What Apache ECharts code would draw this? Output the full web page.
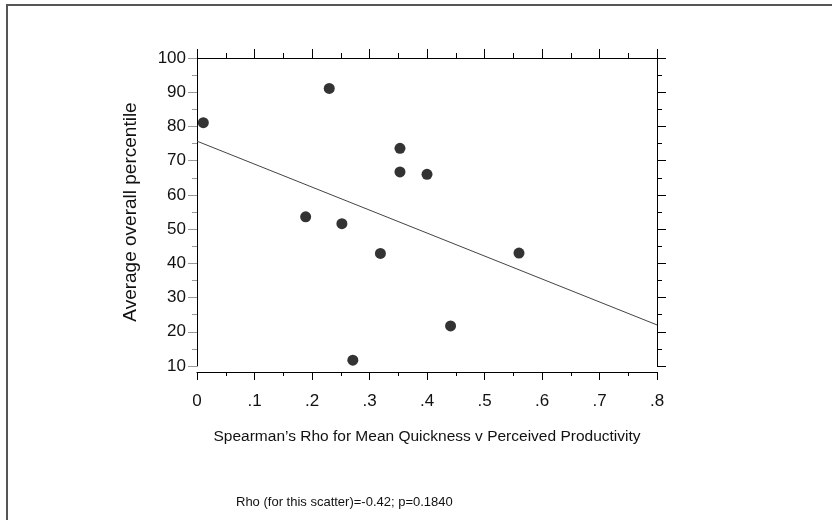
<!DOCTYPE html>
<html>
<head>
<meta charset="utf-8">
<script src="https://cdn.jsdelivr.net/npm/echarts@6/dist/echarts.min.js"></script>
<style>
html,body{margin:0;padding:0;background:#fff;}
#c{width:832px;height:520px;}
</style>
</head>
<body>
<div id="c"></div>
<script>
// Data
const rho = [0.011, 0.23, 0.353, 0.353, 0.40, 0.189, 0.252, 0.319, 0.271, 0.56, 0.441];
const pct = [81.1, 91.1, 73.6, 66.7, 66.0, 53.6, 51.6, 42.9, 11.7, 43.0, 21.7];
const fitX = [0, 0.8];
const fitY = [75.7, 22.0];
const xTitle = "Spearman’s Rho for Mean Quickness v Perceived Productivity";
const yTitle = "Average overall percentile";
const note = "Rho (for this scatter)=-0.42; p=0.1840";

const FONT = '"Liberation Sans", Arial, Helvetica, sans-serif';
const chart = echarts.init(document.getElementById('c'), null, {renderer: 'canvas'});

const xFmt = v => {
  const r = Math.round(v * 10) / 10;
  if (r === 0) return '0';
  return String(r).replace(/^0/, '');
};

chart.setOption({
  animation: false,
  backgroundColor: '#fff',
  textStyle: {fontFamily: FONT},
  grid: {left: 197, top: 58, width: 460, height: 308},
  xAxis: [
    {
      type: 'value', position: 'bottom', offset: 6,
      min: 0, max: 0.8, interval: 0.1,
      axisLine: {show: true, onZero: false, lineStyle: {color: '#000', width: 1}},
      axisTick: {show: true, inside: false, length: 8, lineStyle: {color: '#000'}},
      minorTick: {show: true, splitNumber: 2, length: 4, lineStyle: {color: '#000'}},
      splitLine: {show: false},
      axisLabel: {color: '#111', fontSize: 17, margin: 21, formatter: xFmt, fontFamily: FONT},
      name: xTitle, nameLocation: 'middle', nameGap: 57,
      nameTextStyle: {color: '#111', fontSize: 15.5, fontFamily: FONT}
    },
    {
      type: 'value', position: 'top',
      min: 0, max: 0.8, interval: 0.1,
      axisLine: {show: true, onZero: false, lineStyle: {color: '#000', width: 1}},
      axisTick: {show: true, inside: false, length: 9, lineStyle: {color: '#000'}},
      minorTick: {show: true, splitNumber: 2, length: 5, lineStyle: {color: '#000'}},
      splitLine: {show: false},
      axisLabel: {show: false}
    }
  ],
  yAxis: [
    {
      type: 'value', position: 'left',
      min: 10, max: 100, interval: 10,
      axisLine: {show: true, onZero: false, lineStyle: {color: '#000', width: 1}},
      axisTick: {show: true, inside: false, length: 9, lineStyle: {color: '#999'}},
      minorTick: {show: true, splitNumber: 2, length: 5, lineStyle: {color: '#999'}},
      splitLine: {show: false},
      axisLabel: {color: '#111', fontSize: 17, margin: 11, fontFamily: FONT},
      name: yTitle, nameLocation: 'middle', nameGap: 57, nameRotate: 90,
      nameTextStyle: {color: '#111', fontSize: 19, fontFamily: FONT}
    },
    {
      type: 'value', position: 'right',
      min: 10, max: 100, interval: 10,
      axisLine: {show: true, onZero: false, lineStyle: {color: '#000', width: 1}},
      axisTick: {show: true, inside: false, length: 9, lineStyle: {color: '#000'}},
      minorTick: {show: true, splitNumber: 2, length: 5, lineStyle: {color: '#000'}},
      splitLine: {show: false},
      axisLabel: {show: false}
    }
  ],
  series: [
    {
      type: 'line', xAxisIndex: 0, yAxisIndex: 0,
      data: fitX.map((x, i) => [x, fitY[i]]),
      showSymbol: false, symbol: 'none',
      lineStyle: {color: '#444', width: 1},
      silent: true, z: 2
    },
    {
      type: 'scatter', xAxisIndex: 0, yAxisIndex: 0,
      data: rho.map((x, i) => [x, pct[i]]),
      symbol: 'circle', symbolSize: 11,
      itemStyle: {color: '#000'},
      z: 3
    }
  ],
  graphic: [
    {
      type: 'polyline', silent: true,
      shape: {points: [[7, 520], [7, 5], [832, 5]]},
      style: {stroke: '#555', lineWidth: 2, fill: null}
    },
    {
      type: 'text', left: 236, top: 496, silent: true,
      style: {text: note, fill: '#111', font: '13px ' + FONT}
    }
  ]
});
</script>
</body>
</html>
